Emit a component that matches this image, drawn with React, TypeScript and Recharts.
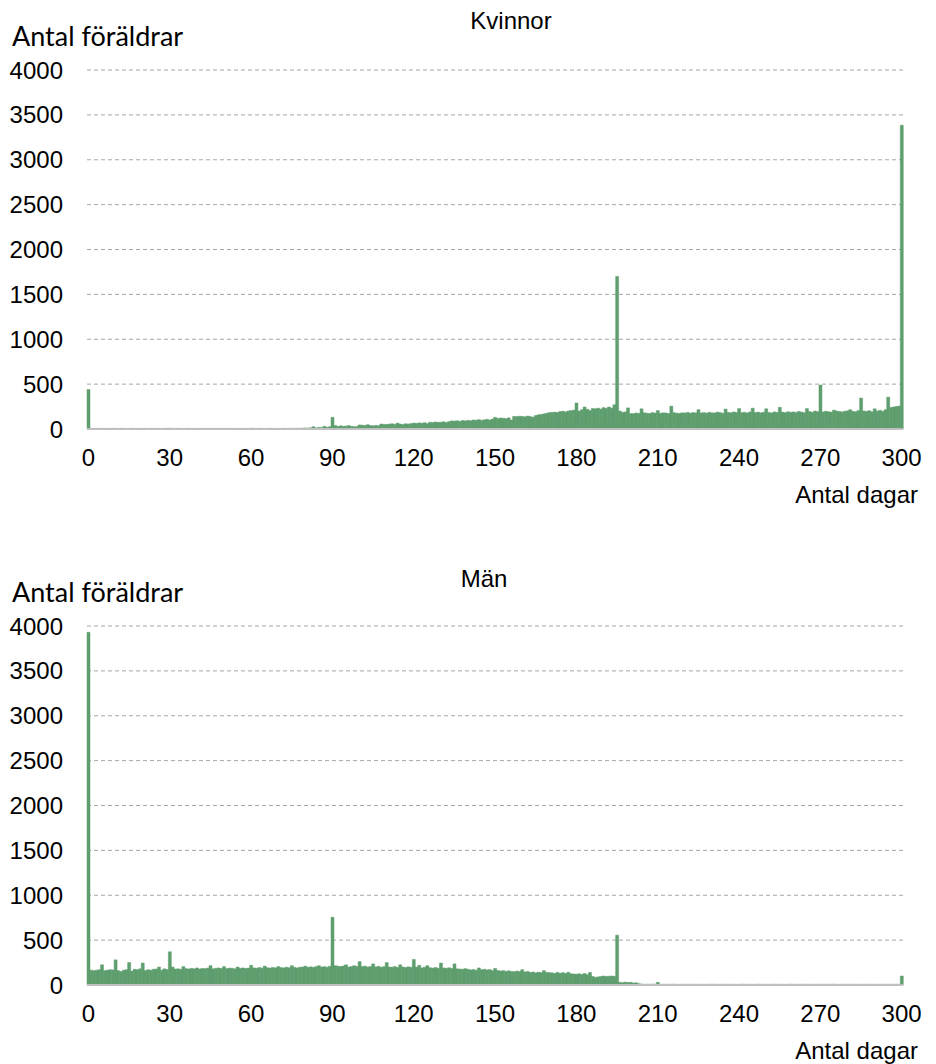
import { BarChart, Bar, XAxis, YAxis, CartesianGrid } from 'recharts';

// antal föräldrar per antal dagar (0..300)
const kvinnor = [
  440, 8, 6, 7, 6, 8, 7, 6, 7, 8,
  7, 6, 8, 7, 6, 7, 8, 6, 7, 6,
  7, 8, 6, 7, 6, 8, 7, 6, 7, 8,
  9, 7, 6, 8, 7, 6, 7, 8, 6, 7,
  6, 7, 8, 6, 7, 8, 6, 7, 6, 8,
  7, 6, 8, 7, 6, 7, 8, 6, 7, 6,
  9, 7, 6, 8, 7, 6, 7, 8, 6, 7,
  6, 7, 8, 6, 7, 8, 7, 9, 8, 10,
  12, 10, 14, 25, 12, 18, 15, 30, 20, 25,
  130, 40, 28, 35, 30, 32, 38, 30, 25, 28,
  45, 42, 40, 48, 38, 35, 40, 36, 55, 52,
  50, 55, 58, 52, 65, 55, 50, 58, 54, 60,
  66, 62, 68, 64, 70, 60, 75, 72, 78, 74,
  76, 80, 72, 82, 90, 88, 92, 85, 94, 90,
  96, 92, 100, 98, 104, 96, 102, 108, 100, 110,
  130, 118, 122, 120, 115, 124, 100, 140, 138, 142,
  140, 136, 144, 138, 132, 150, 158, 162, 168, 175,
  182, 185, 188, 184, 195, 198, 190, 200, 205, 210,
  290, 200, 215, 245, 220, 205, 228, 225, 232, 222,
  238, 230, 245, 232, 270, 1700, 200, 185, 190, 235,
  172, 170, 178, 174, 225, 180, 176, 172, 182, 178,
  205, 175, 180, 178, 172, 255, 182, 176, 174, 180,
  178, 185, 176, 182, 180, 215, 178, 183, 176, 186,
  180, 178, 188, 182, 176, 222, 185, 180, 190, 184,
  228, 182, 186, 178, 190, 232, 184, 188, 180, 186,
  225, 184, 178, 190, 186, 242, 188, 182, 192, 186,
  190, 184, 196, 188, 182, 228, 194, 186, 200, 192,
  490, 190, 198, 192, 188, 210, 200, 194, 190, 198,
  202, 215, 196, 192, 205, 345, 200, 196, 204, 192,
  225, 200, 208, 196, 215, 355, 240, 245, 250, 255,
  3385,
];

const man = [
  3930, 165, 160, 165, 170, 225, 160, 165, 170, 168,
  280, 160, 150, 165, 170, 250, 155, 175, 170, 180,
  245, 160, 170, 165, 175, 178, 200, 165, 180, 172,
  370, 200, 178, 180, 175, 205, 182, 178, 185, 180,
  190, 178, 185, 182, 188, 215, 180, 186, 190, 184,
  205, 182, 188, 185, 180, 200, 186, 190, 184, 188,
  220, 190, 186, 194, 188, 210, 192, 188, 196, 190,
  205, 194, 190, 198, 192, 215, 196, 190, 198, 200,
  210, 198, 202, 196, 205, 215, 200, 204, 198, 208,
  755, 215, 210, 205, 212, 225, 200, 205, 215, 208,
  260, 205, 210, 200, 206, 235, 202, 208, 198, 204,
  250, 200, 198, 205, 196, 225, 200, 195, 202, 198,
  285, 200, 220, 190, 198, 215, 192, 188, 195, 186,
  245, 190, 185, 192, 184, 235, 180, 178, 175, 182,
  175, 168, 172, 165, 190, 170, 175, 168, 172, 160,
  185, 162, 155, 160, 152, 158, 150, 148, 155, 150,
  170, 145, 150, 140, 145, 135, 142, 138, 160, 140,
  138, 135, 130, 140, 130, 138, 128, 142, 125, 122,
  120, 125, 118, 128, 115, 140, 95, 85, 90, 95,
  100, 95, 98, 100, 96, 555, 30, 25, 32, 28,
  30, 22, 25, 15, 10, 8, 9, 8, 10, 9,
  30, 8, 9, 8, 7, 8, 9, 8, 7, 8,
  8, 7, 8, 9, 8, 7, 8, 8, 7, 8,
  9, 8, 7, 8, 8, 9, 7, 8, 8, 7,
  8, 9, 8, 7, 8, 8, 7, 9, 8, 8,
  7, 8, 8, 9, 7, 8, 8, 7, 8, 9,
  8, 7, 8, 8, 9, 8, 7, 8, 8, 7,
  9, 8, 8, 7, 8, 9, 8, 7, 8, 8,
  7, 8, 9, 8, 8, 7, 8, 8, 9, 7,
  8, 8, 7, 9, 8, 8, 7, 8, 9, 8,
  100,
];

const yTicks = [0, 500, 1000, 1500, 2000, 2500, 3000, 3500, 4000];
const xTicks = [0, 30, 60, 90, 120, 150, 180, 210, 240, 270, 300];

const GREEN = '#5f9e6e';
const ARIAL = '"Liberation Sans", Arial, sans-serif';

function Panel({ values }: { values: number[] }) {
  const data = values.map((v, i) => ({ day: i, v }));
  return (
    <BarChart
      width={936}
      height={540}
      data={data}
      margin={{ top: 70, right: 33, left: 0, bottom: 71 }}
      barCategoryGap={0}
      barGap={0}
    >
      <CartesianGrid vertical={false} stroke="#a6a6a6" strokeDasharray="4 3" />
      <XAxis
        dataKey="day"
        ticks={xTicks}
        interval={0}
        height={40}
        axisLine={{ stroke: '#bfbfbf', strokeWidth: 2 }}
        tickLine={false}
        tickSize={0}
        tickMargin={20}
        tick={{ fill: '#000', fontSize: 24, fontFamily: ARIAL }}
      />
      <YAxis
        width={87}
        domain={[0, 4000]}
        ticks={yTicks}
        interval={0}
        axisLine={false}
        tickLine={false}
        tickSize={0}
        tickMargin={24}
        tick={{ fill: '#000', fontSize: 24, fontFamily: ARIAL }}
      />
      <Bar dataKey="v" fill={GREEN} stroke={GREEN} strokeWidth={0.5} isAnimationActive={false} />
    </BarChart>
  );
}

export default function App() {
  return (
    <div style={{ position: 'absolute', left: 0, top: 0, width: 936, height: 1064, background: '#fff' }}>
      <div style={{ position: 'absolute', left: 0, top: 0 }}>
        <Panel values={kvinnor} />
      </div>
      <div style={{ position: 'absolute', left: 0, top: 556 }}>
        <Panel values={man} />
      </div>
      <svg
        width={936}
        height={1064}
        style={{ position: 'absolute', left: 0, top: 0, pointerEvents: 'none' }}
      >
        <text x={511} y={29} textAnchor="middle" fontSize={24} fontFamily={ARIAL}>Kvinnor</text>
        <text x={12} y={46} fontSize={27} fontFamily="Lato, sans-serif">Antal föräldrar</text>
        <text x={918} y={503} textAnchor="end" fontSize={24} fontFamily={ARIAL}>Antal dagar</text>
        <text x={484} y={587} textAnchor="middle" fontSize={24} fontFamily={ARIAL}>Män</text>
        <text x={12} y={602} fontSize={27} fontFamily="Lato, sans-serif">Antal föräldrar</text>
        <text x={918} y={1059} textAnchor="end" fontSize={24} fontFamily={ARIAL}>Antal dagar</text>
      </svg>
    </div>
  );
}
